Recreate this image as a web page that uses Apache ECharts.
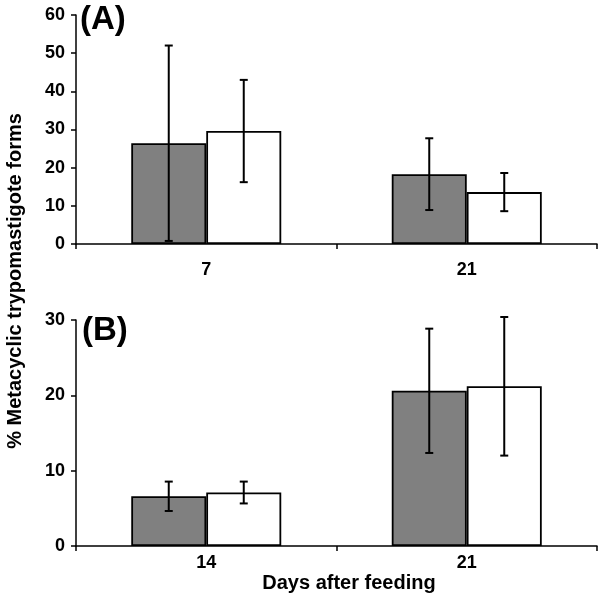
<!DOCTYPE html>
<html>
<head>
<meta charset="utf-8">
<script src="https://cdn.jsdelivr.net/npm/echarts@6/dist/echarts.min.js"></script>
<style>html,body{margin:0;padding:0;background:#fff}#c{width:600px;height:596px}</style>
</head>
<body>
<div id="c"></div>
<script>
// Panel A
var catsA = ['7', '21'];
var greyA = [26.4, 18.3];
var greyErrA = [25.6, 9.4];
var whiteA = [29.6, 13.6];
var whiteErrA = [13.4, 5.0];
// Panel B
var catsB = ['14', '21'];
var greyB = [6.6, 20.6];
var greyErrB = [1.95, 8.25];
var whiteB = [7.1, 21.2];
var whiteErrB = [1.45, 9.2];

var BAR_W = 75;
var FONT = 'Liberation Sans, Arial, Helvetica, sans-serif';

function errData(vals, errs) {
  return vals.map(function (v, i) { return [i, v, errs[i]]; });
}
function errSeries(xi, yi, vals, errs, side) {
  return {
    type: 'custom', xAxisIndex: xi, yAxisIndex: yi, z: 10,
    data: errData(vals, errs),
    renderItem: function (params, api) {
      var c = api.value(0), v = api.value(1), e = api.value(2);
      var top = api.coord([c, v + e]);
      var bot = api.coord([c, v - e]);
      var x = top[0] + side * BAR_W / 2;
      var cap = 4;
      var st = { stroke: '#000', lineWidth: 2 };
      return {
        type: 'group',
        children: [
          { type: 'line', shape: { x1: x, y1: top[1], x2: x, y2: bot[1] }, style: st },
          { type: 'line', shape: { x1: x - cap, y1: top[1], x2: x + cap, y2: top[1] }, style: st },
          { type: 'line', shape: { x1: x - cap, y1: bot[1], x2: x + cap, y2: bot[1] }, style: st }
        ]
      };
    }
  };
}
function barSeries(xi, yi, vals, color) {
  return {
    type: 'bar', xAxisIndex: xi, yAxisIndex: yi, data: vals,
    barWidth: BAR_W, barGap: '0%',
    itemStyle: { color: color, borderColor: '#000', borderWidth: 1.8 },
    silent: true
  };
}
var axisLineStyle = { lineStyle: { color: '#000', width: 1.5 } };
function xAx(gi, cats, margin) {
  return {
    type: 'category', gridIndex: gi, data: cats,
    axisLine: axisLineStyle,
    axisTick: { show: true, length: 5, lineStyle: { color: '#000', width: 1.5 } },
    axisLabel: { color: '#000', fontWeight: 'bold', fontSize: 18, fontFamily: FONT, margin: margin }
  };
}
function yAx(gi, max) {
  return {
    type: 'value', gridIndex: gi, min: 0, max: max, interval: 10,
    splitLine: { show: false },
    axisLine: { show: true, lineStyle: { color: '#000', width: 1.5 } },
    axisTick: { show: true, length: 5, lineStyle: { color: '#000', width: 1.5 } },
    axisLabel: { color: '#000', fontWeight: 'bold', fontSize: 18, fontFamily: FONT, margin: 11 }
  };
}

var chart = echarts.init(document.getElementById('c'));
chart.setOption({
  animation: false,
  backgroundColor: '#fff',
  grid: [
    { left: 76, width: 521, top: 15, height: 229 },
    { left: 76, width: 521, top: 320, height: 226 }
  ],
  xAxis: [xAx(0, catsA, 17), xAx(1, catsB, 8)],
  yAxis: [yAx(0, 60), yAx(1, 30)],
  series: [
    barSeries(0, 0, greyA, '#808080'),
    barSeries(0, 0, whiteA, '#ffffff'),
    barSeries(1, 1, greyB, '#808080'),
    barSeries(1, 1, whiteB, '#ffffff'),
    errSeries(0, 0, greyA, greyErrA, -1),
    errSeries(0, 0, whiteA, whiteErrA, 1),
    errSeries(1, 1, greyB, greyErrB, -1),
    errSeries(1, 1, whiteB, whiteErrB, 1)
  ],
  graphic: [
    { type: 'text', left: 80, top: 3, style: { text: '(A)', font: 'bold 33px ' + FONT, fill: '#000' } },
    { type: 'text', left: 82, top: 314, style: { text: '(B)', font: 'bold 33px ' + FONT, fill: '#000' } },
    { type: 'text', x: 15, y: 281, rotation: Math.PI / 2,
      style: { text: '% Metacyclic trypomastigote forms', font: 'bold 20px ' + FONT, fill: '#000', align: 'center', verticalAlign: 'middle' } },
    { type: 'text', x: 349, y: 583,
      style: { text: 'Days after feeding', font: 'bold 20px ' + FONT, fill: '#000', align: 'center', verticalAlign: 'middle' } }
  ]
});
</script>
</body>
</html>
